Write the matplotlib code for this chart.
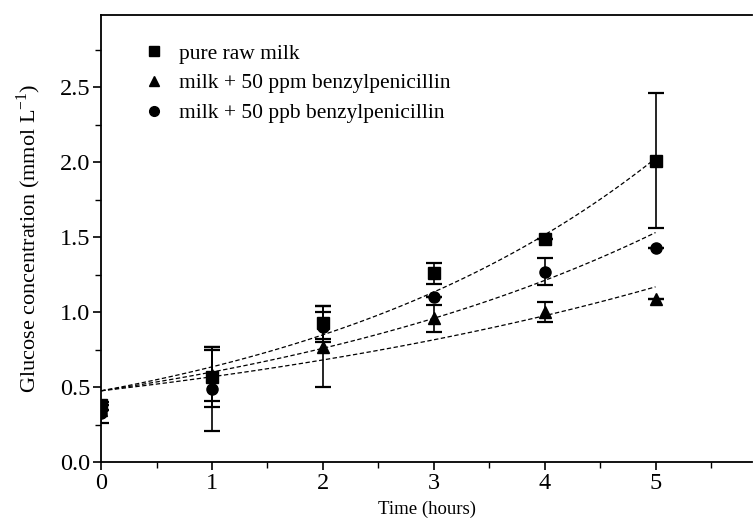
"""
Glucose concentration in milk over time, with exponential fits.
"""

import numpy as np
import matplotlib
matplotlib.use("Agg")
import matplotlib.pyplot as plt
from matplotlib.ticker import MultipleLocator


TIME_HOURS = [0, 1, 2, 3, 4, 5]

RAW_MILK = [0.38, 0.57, 0.93, 1.26, 1.49, 2.01]
RAW_MILK_ERR = [0.0, 0.20, 0.11, 0.07, 0.0, 0.45]

PPM_MILK = [0.35, 0.58, 0.77, 0.96, 1.00, 1.09]
PPM_MILK_ERR = [0.0, 0.17, 0.27, 0.09, 0.065, 0.0]

PPB_MILK = [0.33, 0.49, 0.90, 1.10, 1.27, 1.43]
PPB_MILK_ERR = [0.07, 0.28, 0.10, 0.0, 0.09, 0.0]

# exponential fit y = a * exp(b * t)
FIT_A = [0.475, 0.475, 0.475]
FIT_B = [0.290, 0.180, 0.234]

LABELS = [
    "pure raw milk",
    "milk + 50 ppm benzylpenicillin",
    "milk + 50 ppb benzylpenicillin"
]

MARKERS = ["s", "^", "o"]


def main() -> None:
    plt.rcParams["font.family"] = ["Liberation Serif", "DejaVu Serif"]
    plt.rcParams["mathtext.fontset"] = "custom"
    plt.rcParams["mathtext.rm"] = "Liberation Serif"

    fig = plt.figure(figsize=(7.55, 5.25), dpi=100)
    ax = fig.add_axes([0.134, 0.12, 0.862, 0.851])

    series = [
        (RAW_MILK, RAW_MILK_ERR),
        (PPM_MILK, PPM_MILK_ERR),
        (PPB_MILK, PPB_MILK_ERR)
    ]

    t_fit = np.linspace(0, 5, 100)
    for a, b in zip(FIT_A, FIT_B):
        ax.plot(t_fit, a * np.exp(b * t_fit), color="black",
                linewidth=0.9, dashes=(3.5, 2))

    for (vals, errs), marker, label in zip(series, MARKERS, LABELS):
        ax.errorbar(TIME_HOURS, vals, yerr=errs, fmt=marker,
                    color="black", markersize=8, capsize=5.5,
                    elinewidth=1.2, capthick=1.6, label=label)

    ax.set_xlim(0, 5.87)
    ax.set_ylim(0, 2.98)
    ax.xaxis.set_major_locator(MultipleLocator(1))
    ax.xaxis.set_minor_locator(MultipleLocator(0.5))
    ax.yaxis.set_major_locator(MultipleLocator(0.5))
    ax.yaxis.set_minor_locator(MultipleLocator(0.25))
    ax.yaxis.set_major_formatter(plt.FormatStrFormatter("%.1f"))

    ax.spines["right"].set_visible(False)
    for side in ["left", "bottom", "top"]:
        ax.spines[side].set_linewidth(1.3)

    ax.tick_params(which="major", direction="out", length=6, width=1.2,
                   labelsize=17.5, pad=2)
    ax.tick_params(which="minor", direction="out", length=4, width=1.0)
    ax.tick_params(top=False, which="both")

    ax.set_xlabel("Time (hours)", fontsize=13.5, labelpad=5)
    ax.set_ylabel("Glucose concentration (mmol L$^{-1}$)", fontsize=16,
                  labelpad=12)

    legend_handles = [
        plt.Line2D([], [], linestyle="none", marker=m, color="black",
                   markersize=7)
        for m in MARKERS
    ]
    ax.legend(legend_handles, LABELS, loc="upper left",
              bbox_to_anchor=(0.027, 0.98), frameon=False, fontsize=15.5,
              handletextpad=0.4, handlelength=1.5, labelspacing=0.45)

    fig.savefig("out.png", dpi=100)


if __name__ == "__main__":
    main()
